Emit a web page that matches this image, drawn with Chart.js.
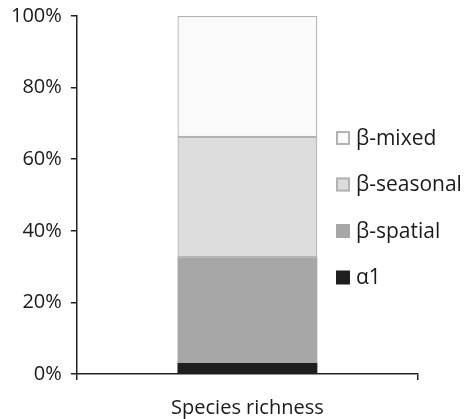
<!DOCTYPE html>
<html>
<head>
<meta charset="utf-8">
<script src="https://cdn.jsdelivr.net/npm/chart.js@4"></script>
<style>
  html, body { margin: 0; padding: 0; background: #fff; }
  #wrap { width: 471px; height: 419px; }
</style>
</head>
<body>
<div id="wrap"><canvas id="myChart"></canvas></div>
<script>
// Data
const categories = ['Species richness'];
const seriesNames = ['α1', 'β-spatial', 'β-seasonal', 'β-mixed'];
const alpha1 = [3.1];
const betaSpatial = [29.5];
const betaSeasonal = [33.6];
const betaMixed = [33.8];
const yTicks = [0, 20, 40, 60, 80, 100];

const fills = ['#1e1e1e', '#a6a7a6', '#dcdcdc', '#fafafa'];
const borders = ['#1e1e1e', '#a6a7a6', '#b3b3b3', '#b3b3b3'];
const FONT = '"Open Sans", sans-serif';

// legend drawn inside the plot, top item = last series
const sideLegend = {
    id: 'sideLegend',
    afterDraw(chart) {
        const ctx = chart.ctx;
        const sets = chart.data.datasets;
        ctx.save();
        ctx.font = '21px ' + FONT;
        ctx.textBaseline = 'middle';
        ctx.textAlign = 'left';
        for (let i = sets.length - 1, row = 0; i >= 0; i--, row++) {
            const y = 138 + row * 46.5;
            ctx.fillStyle = sets[i].backgroundColor;
            ctx.fillRect(336, y - 7, 14, 14);
            if (sets[i].borderWidth > 0) {
                ctx.strokeStyle = sets[i].borderColor;
                ctx.lineWidth = 2;
                ctx.strokeRect(337, y - 6, 12, 12);
            }
            ctx.fillStyle = '#1a1a1a';
            ctx.fillText(sets[i].label, 356, y + 1);
        }
        ctx.restore();
    }
};

const values = [alpha1, betaSpatial, betaSeasonal, betaMixed];

const ctx = document.getElementById('myChart').getContext('2d');
const myChart = new Chart(ctx, {
    type: 'bar',
    data: {
        labels: categories,
        datasets: seriesNames.map((name, i) => ({
            label: name,
            data: values[i],
            backgroundColor: fills[i],
            borderColor: borders[i],
            borderWidth: i >= 2 ? 1.3 : 0,
            borderSkipped: false,
            barPercentage: 0.41,
            categoryPercentage: 1
        }))
    },
    options: {
        responsive: true,
        maintainAspectRatio: false,
        animation: false,
        layout: {
            padding: { left: 2, right: 53, top: 0, bottom: -17 }
        },
        plugins: {
            legend: { display: false },
            tooltip: { enabled: false }
        },
        scales: {
            x: {
                stacked: true,
                grid: {
                    drawOnChartArea: false,
                    drawTicks: true,
                    tickLength: 6,
                    color: '#222',
                    lineWidth: 1.5
                },
                border: { color: '#222', width: 1.5 },
                ticks: {
                    padding: 16,
                    color: '#1a1a1a',
                    font: { family: FONT, size: 20 }
                }
            },
            y: {
                stacked: true,
                min: 0,
                max: 100,
                afterBuildTicks: (axis) => {
                    axis.ticks = yTicks.map(v => ({ value: v }));
                },
                afterFit: (axis) => {
                    axis.paddingTop = 16;
                },
                grid: {
                    drawOnChartArea: false,
                    drawTicks: true,
                    tickLength: 6,
                    color: '#222',
                    lineWidth: 1.5
                },
                border: { color: '#222', width: 1.5 },
                ticks: {
                    padding: 9,
                    color: '#1a1a1a',
                    font: { family: FONT, size: 20 },
                    callback: (v) => v + '%'
                }
            }
        }
    },
    plugins: [sideLegend]
});
</script>
</body>
</html>
